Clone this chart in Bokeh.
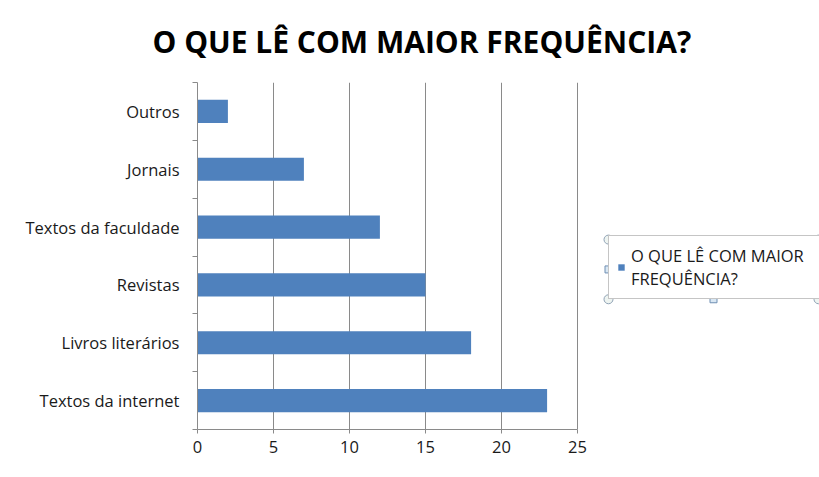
from bokeh.plotting import figure
from bokeh.models import Range1d, FixedTicker, Legend, LegendItem
from bokeh.embed import file_html
from bokeh.resources import INLINE

# Survey answers: what respondents read most often
categories = ["Textos da internet", "Livros literários", "Revistas",
              "Textos da faculdade", "Jornais", "Outros"]
counts = [23, 18, 15, 12, 7, 2]
x_ticks = [0, 5, 10, 15, 20, 25]
chart_title = "O QUE LÊ COM MAIOR FREQUÊNCIA?"
series_name = "O QUE LÊ COM MAIOR\nFREQUÊNCIA?"

# Canvas and frame geometry (pixels)
W, H = 819, 477
LEFT, TOP, BOTTOM = 197, 80, 48
X_AXIS_MAX = 25
PX_PER_UNIT = 15.2
frame_w = W - LEFT
frame_h = H - TOP - BOTTOM
n = len(categories)

FONT = "Open Sans"
TEXT_COLOR = "#1a1a1a"
GRID_COLOR = "#8a8a8a"
BAR_COLOR = "#4F81BD"

p = figure(width=W, height=H,
           x_range=Range1d(0, frame_w / PX_PER_UNIT),
           y_range=Range1d(0, n),
           output_backend="svg", toolbar_location=None,
           min_border_left=LEFT, min_border_right=0,
           min_border_top=TOP, min_border_bottom=BOTTOM)
p.outline_line_color = None
p.background_fill_color = "white"
p.border_fill_color = "white"

# Title above the frame, shifted left so it centres on the bar area
p.title.text = chart_title
p.title.text_font = FONT
p.title.text_font_style = "bold"
p.title.text_font_size = "30px"
p.title.text_color = "black"
p.title.align = "left"
p.title.vertical_align = "middle"
p.title.offset = -45
p.title.standoff = 39


def px_to_x(px):
    return (px - LEFT) / PX_PER_UNIT


def px_to_y(py):
    return (TOP + frame_h - py) * n / frame_h


centers = [i + 0.5 for i in range(n)]
bars = p.hbar(y=centers, left=0, right=counts, height=0.4,
              fill_color=BAR_COLOR, line_color=None)

# x axis: only spans 0..25, gridlines follow its bounds
xa = p.xaxis[0]
xa.ticker = FixedTicker(ticks=x_ticks, minor_ticks=[])
xa.bounds = (0, X_AXIS_MAX)
xa.axis_line_color = GRID_COLOR
xa.major_tick_line_color = GRID_COLOR
xa.major_tick_out = 4
xa.major_tick_in = 0
xa.major_label_standoff = 7
xa.major_label_text_font = FONT
xa.major_label_text_font_size = "16.5px"
xa.major_label_text_color = TEXT_COLOR

p.xgrid.grid_line_color = GRID_COLOR
p.xgrid.grid_line_width = 1
p.ygrid.grid_line_color = None

# y axis: labels at category centres, tick marks between categories
ya = p.yaxis[0]
ya.ticker = FixedTicker(ticks=centers, minor_ticks=list(range(n + 1)))
ya.major_label_overrides = {c: lab for c, lab in zip(centers, categories)}
ya.axis_line_color = GRID_COLOR
ya.major_tick_line_color = None
ya.major_tick_out = 5
ya.major_tick_in = 0
ya.minor_tick_line_color = GRID_COLOR
ya.minor_tick_out = 5
ya.minor_tick_in = 0
ya.major_label_standoff = 13
ya.major_label_text_font = FONT
ya.major_label_text_font_size = "16.5px"
ya.major_label_text_color = TEXT_COLOR

# Legend box
LG_L, LG_T, LG_R, LG_B = 608, 238, 818, 298
PAD = 8
legend = Legend(items=[LegendItem(label=series_name, renderers=[bars])],
                location=(LG_L - LEFT, TOP + frame_h - LG_B - 1),
                orientation="vertical",
                border_line_color="#8c8c8c", border_line_width=1,
                background_fill_color="white", background_fill_alpha=1,
                padding=PAD, margin=0, spacing=0,
                glyph_width=8, glyph_height=8, label_standoff=6,
                label_width=LG_R - LG_L - 2 * PAD - 8 - 6,
                label_text_font=FONT, label_text_font_size="16.5px",
                label_text_color=TEXT_COLOR, label_text_line_height=1.22)
p.add_layout(legend)

# Selection handles around the legend box
mid_x = (LG_L + LG_R) / 2
mid_y = (LG_T + LG_B) / 2
corner_px = [(LG_L, LG_T), (LG_R, LG_T), (LG_L, LG_B), (LG_R, LG_B)]
side_px = [(mid_x, LG_T), (mid_x, LG_B), (LG_L, mid_y), (LG_R, mid_y)]
p.scatter([px_to_x(a) for a, b in corner_px], [px_to_y(b) for a, b in corner_px],
          marker="circle", size=9, fill_color="#eef4f1", line_color="#8fa2b5",
          line_width=1)
p.scatter([px_to_x(a) for a, b in side_px], [px_to_y(b) for a, b in side_px],
          marker="square", size=7, fill_color="#d9e7f3", line_color="#6f8fb3",
          line_width=1)

open("out.html", "w").write(file_html(p, INLINE))
